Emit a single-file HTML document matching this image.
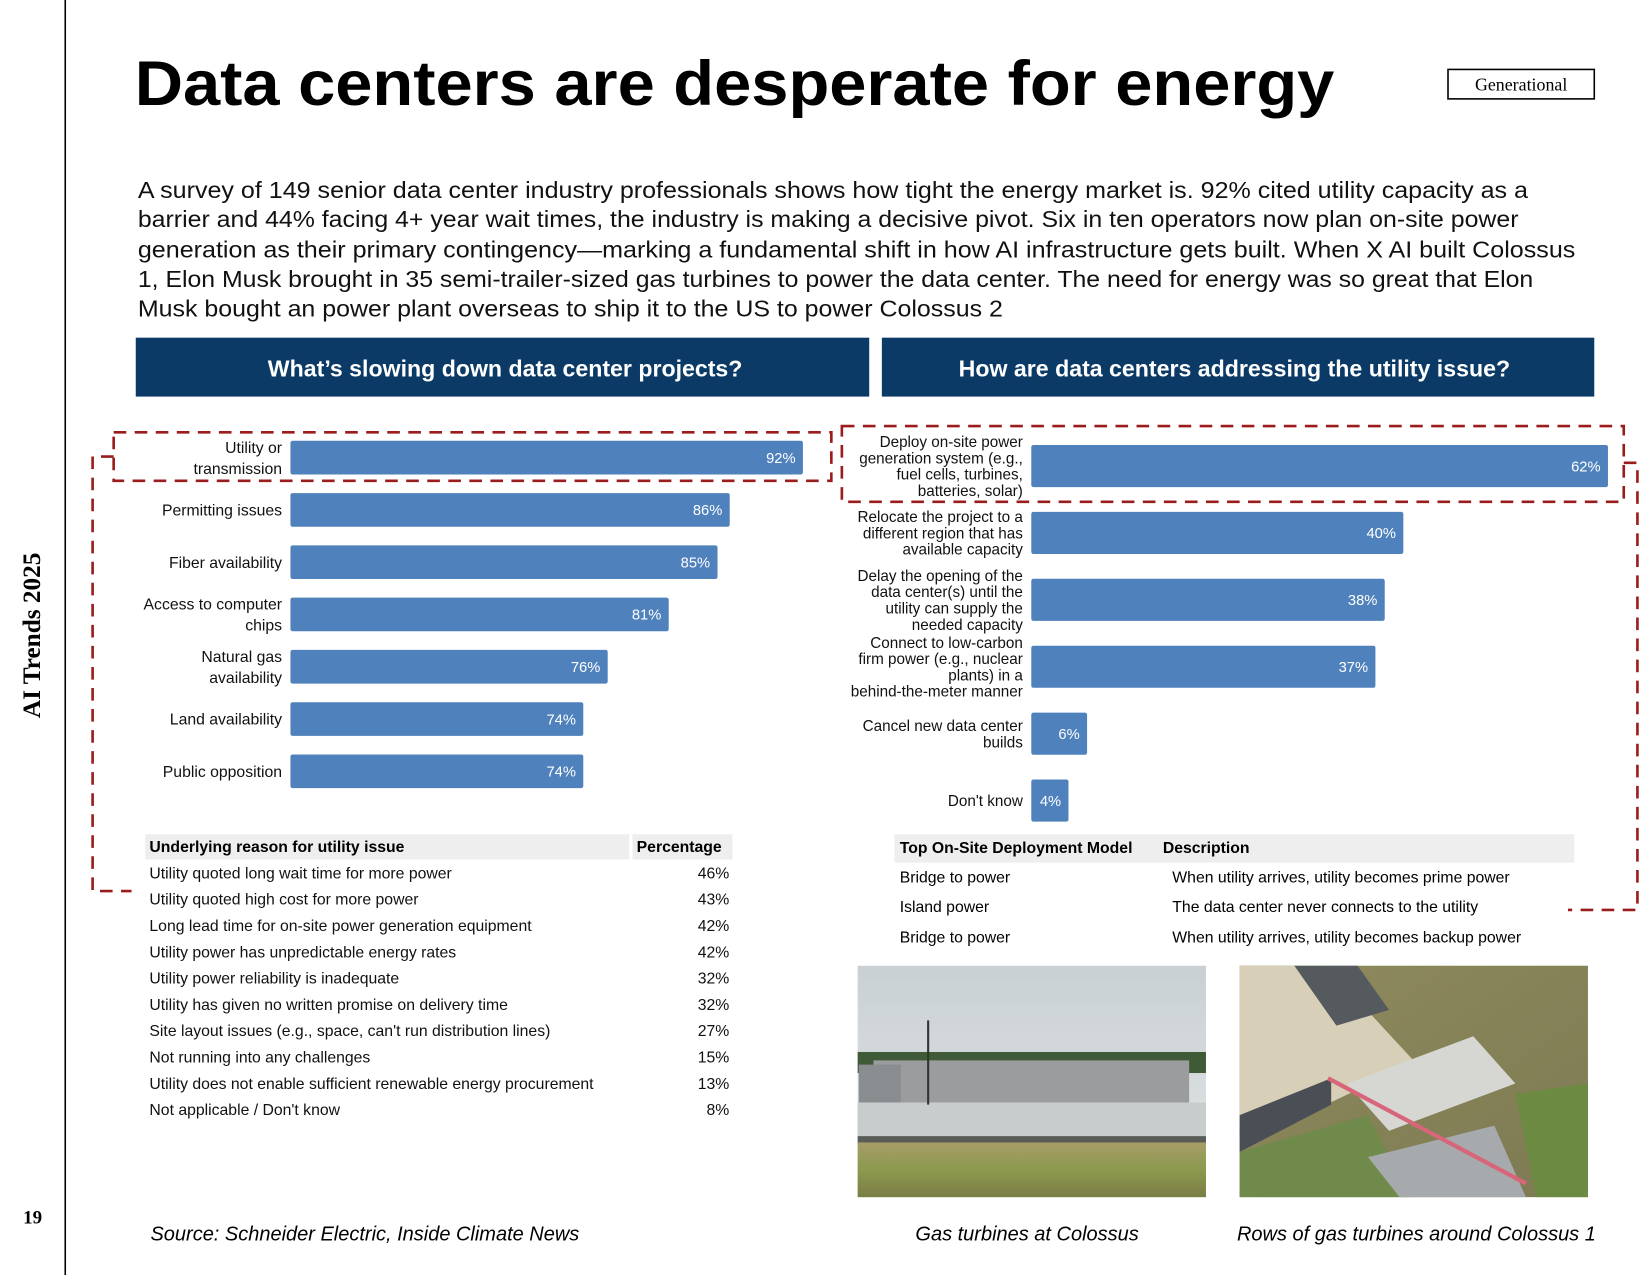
<!DOCTYPE html>
<html><head><meta charset="utf-8"><style>
html,body{margin:0;padding:0;background:#fff;}
svg{display:block;}
text{font-family:"Liberation Sans",Arial,sans-serif;}
.serif{font-family:"Liberation Serif","DejaVu Serif",serif;}
</style></head><body>
<svg id="page" xmlns="http://www.w3.org/2000/svg" width="1649" height="1275" viewBox="0 0 1567 1212" preserveAspectRatio="none">
<defs>
<linearGradient id="sky" x1="0" y1="0" x2="0" y2="1"><stop offset="0" stop-color="#c9d0d4"/><stop offset="1" stop-color="#e3e6e6"/></linearGradient>
<linearGradient id="grass" x1="0" y1="0" x2="0" y2="1"><stop offset="0" stop-color="#a89c68"/><stop offset="0.5" stop-color="#8c9a4e"/><stop offset="1" stop-color="#7a7d45"/></linearGradient>
<linearGradient id="field" x1="0" y1="0" x2="1" y2="1"><stop offset="0" stop-color="#8f8a5e"/><stop offset="1" stop-color="#7d7a52"/></linearGradient>
</defs>
<line x1="62" y1="0" x2="62" y2="1212" stroke="#000" stroke-width="1.5"/>
<text class="serif" x="0" y="0" transform="translate(38,604) rotate(-90)" text-anchor="middle" font-size="24" font-weight="bold">AI Trends 2025</text>
<text class="serif" x="31" y="1163" text-anchor="middle" font-size="18" font-weight="bold">19</text>

<text x="128" y="100" font-size="60" font-weight="bold" textLength="1140" lengthAdjust="spacingAndGlyphs">Data centers are desperate for energy</text>
<g>
<rect x="1376" y="66" width="139" height="28" fill="#fff" stroke="#000" stroke-width="1.5"/>
<text class="serif" x="1445.5" y="86" text-anchor="middle" font-size="17">Generational</text>
</g>

<g font-size="22" fill="#111">
<text x="131" y="188" textLength="1321" lengthAdjust="spacingAndGlyphs">A survey of 149 senior data center industry professionals shows how tight the energy market is. 92% cited utility capacity as a</text>
<text x="131" y="216" textLength="1312" lengthAdjust="spacingAndGlyphs">barrier and 44% facing 4+ year wait times, the industry is making a decisive pivot. Six in ten operators now plan on-site power</text>
<text x="131" y="245" textLength="1366" lengthAdjust="spacingAndGlyphs">generation as their primary contingency—marking a fundamental shift in how AI infrastructure gets built. When X AI built Colossus</text>
<text x="131" y="273" textLength="1326" lengthAdjust="spacingAndGlyphs">1, Elon Musk brought in 35 semi-trailer-sized gas turbines to power the data center. The need for energy was so great that Elon</text>
<text x="131" y="301" textLength="822" lengthAdjust="spacingAndGlyphs">Musk bought an power plant overseas to ship it to the US to power Colossus 2</text>
</g>

<g>
<rect x="129" y="321" width="697" height="56" fill="#0b3a66"/>
<text x="480" y="358" text-anchor="middle" fill="#fff" font-size="22" font-weight="bold">What’s slowing down data center projects?</text>
</g>
<g>
<rect x="838" y="321" width="677" height="56" fill="#0b3a66"/>
<text x="1173" y="358" text-anchor="middle" fill="#fff" font-size="22" font-weight="bold">How are data centers addressing the utility issue?</text>
</g>

<g id="leftChart"></g>
<g id="rightChart"></g>

<g fill="none" stroke="#9b1c1c" stroke-width="2.5" stroke-dasharray="12 8">
<rect x="108" y="411" width="682" height="46"/>
<path d="M108 434 H88 V847 H125"/>
<rect x="800" y="405" width="743" height="72"/>
<path d="M1543 440 H1556 V865 H1490"/>
</g>

<g id="leftTable">
<rect x="138" y="793" width="460" height="24" fill="#eeeeee"/>
<rect x="601" y="793" width="95" height="24" fill="#eeeeee"/>
<text x="142" y="810" font-size="15" font-weight="bold">Underlying reason for utility issue</text>
<text x="605" y="810" font-size="15" font-weight="bold">Percentage</text>
</g>

<g font-size="15">
<rect x="850" y="793" width="646" height="27" fill="#eeeeee"/>
<text x="855" y="811" font-weight="bold">Top On-Site Deployment Model</text>
<text x="1105" y="811" font-weight="bold">Description</text>
<text x="855" y="839">Bridge to power</text><text x="1114" y="839">When utility arrives, utility becomes prime power</text>
<text x="855" y="867">Island power</text><text x="1114" y="867">The data center never connects to the utility</text>
<text x="855" y="896">Bridge to power</text><text x="1114" y="896">When utility arrives, utility becomes backup power</text>
</g>

<g>
<rect x="815" y="918" width="331" height="220" fill="url(#sky)"/>
<rect x="815" y="1000" width="331" height="20" fill="#3f5a36"/>
<rect x="830" y="1008" width="300" height="42" fill="#9a9c9e"/>
<rect x="816" y="1012" width="40" height="36" fill="#8a8d8f"/>
<rect x="815" y="1048" width="331" height="34" fill="#c9cccd"/>
<rect x="815" y="1080" width="331" height="8" fill="#5a5c58"/>
<rect x="815" y="1086" width="331" height="52" fill="url(#grass)"/>
<line x1="882" y1="970" x2="882" y2="1050" stroke="#333" stroke-width="2"/>
</g>
<g>
<rect x="1178" y="918" width="331" height="220" fill="url(#field)"/>
<polygon points="1178,918 1260,918 1345,1010 1260,1050 1178,1070" fill="#d8cfb8"/>
<polygon points="1178,1060 1265,1025 1265,1050 1178,1095" fill="#4a4e55"/>
<polygon points="1230,918 1290,918 1320,960 1270,975" fill="#555a5e"/>
<polygon points="1280,1030 1400,985 1440,1030 1320,1075" fill="#d6d6d2"/>
<polygon points="1178,1095 1300,1060 1340,1138 1178,1138" fill="#6f8a4a"/>
<polygon points="1300,1100 1420,1070 1450,1138 1330,1138" fill="#a7aaad"/>
<line x1="1262" y1="1025" x2="1450" y2="1125" stroke="#d8667a" stroke-width="4"/>
<polygon points="1440,1040 1509,1030 1509,1138 1460,1138" fill="#6d8a42"/>
</g>

<g font-size="19" font-style="italic">
<text x="143" y="1179">Source: Schneider Electric, Inside Climate News</text>
<text x="976" y="1179" text-anchor="middle">Gas turbines at Colossus</text>
<text x="1346" y="1179" text-anchor="middle">Rows of gas turbines around Colossus 1</text>
</g>
</svg>
<script>
const NS = "http://www.w3.org/2000/svg";
// Left chart data
const leftCategories = ["Utility or\ntransmission","Permitting issues","Fiber availability","Access to computer\nchips","Natural gas\navailability","Land availability","Public opposition"];
const leftValues = [92,86,85,81,76,74,74];
const leftDomain = [50, 92];
// Right chart data
const rightCategories = ["Deploy on-site power\ngeneration system (e.g.,\nfuel cells, turbines,\nbatteries, solar)","Relocate the project to a\ndifferent region that has\navailable capacity","Delay the opening of the\ndata center(s) until the\nutility can supply the\nneeded capacity","Connect to low-carbon\nfirm power (e.g., nuclear\nplants) in a\nbehind-the-meter manner","Cancel new data center\nbuilds","Don't know"];
const rightValues = [62,40,38,37,6,4];
const rightDomain = [0, 62];
// Table data
const reasonLabels = ["Utility quoted long wait time for more power","Utility quoted high cost for more power","Long lead time for on-site power generation equipment","Utility power has unpredictable energy rates","Utility power reliability is inadequate","Utility has given no written promise on delivery time","Site layout issues (e.g., space, can't run distribution lines)","Not running into any challenges","Utility does not enable sufficient renewable energy procurement","Not applicable / Don't know"];
const reasonValues = [46,43,42,42,32,32,27,15,13,8];

function mk(tag, attrs, parent){const e=document.createElementNS(NS,tag);for(const k in attrs)e.setAttribute(k,attrs[k]);parent.appendChild(e);return e;}

function drawBars(g, cats, vals, domain, cfg){
  const x = v => cfg.x0 + (v - domain[0]) / (domain[1]-domain[0]) * (cfg.x1 - cfg.x0);
  const y = i => cfg.y0 + i * cfg.step;
  cats.forEach((c,i)=>{
    const cy = y(i);
    const bar = mk('rect',{x:cfg.x0,y:cy-cfg.h/2,width:Math.max(0,x(vals[i])-cfg.x0),height:cfg.h,fill:'#4f81bd',rx:2},g);
    
    
    const vt = mk('text',{x:x(vals[i])-7,y:cy+5,'text-anchor':'end',fill:'#fff','font-size':14},g);
    vt.textContent = vals[i]+'%';
    
    
    const lines = c.split('\n');
    const lt = mk('text',{x:cfg.x0-8,'text-anchor':'end','font-size':cfg.fs,fill:'#111'},g);
    
    
    const start = cy - (lines.length-1)*cfg.lh/2 + cfg.fs*0.36;
    lines.forEach((l,j)=>{const ts=mk('tspan',{x:cfg.x0-8,y:start+j*cfg.lh},lt);ts.textContent=l;});
  });
}
drawBars(document.getElementById('leftChart'), leftCategories, leftValues, leftDomain, {x0:276,x1:763,y0:435,step:49.7,h:32,fs:15,lh:20});
drawBars(document.getElementById('rightChart'), rightCategories, rightValues, rightDomain, {x0:980,x1:1528,y0:443,step:63.6,h:40,fs:14.5,lh:15.5});

const tg = document.getElementById('leftTable');
reasonLabels.forEach((r,i)=>{
  const yy = 835 + i*25;
  const t = mk('text',{x:142,y:yy,'font-size':15,fill:'#111'},tg);
  t.textContent = r;
  
  
  const p = mk('text',{x:693,y:yy,'font-size':15,'text-anchor':'end',fill:'#111'},tg);
  p.textContent = reasonValues[i]+'%';
  
  
});
</script>
</body></html>
